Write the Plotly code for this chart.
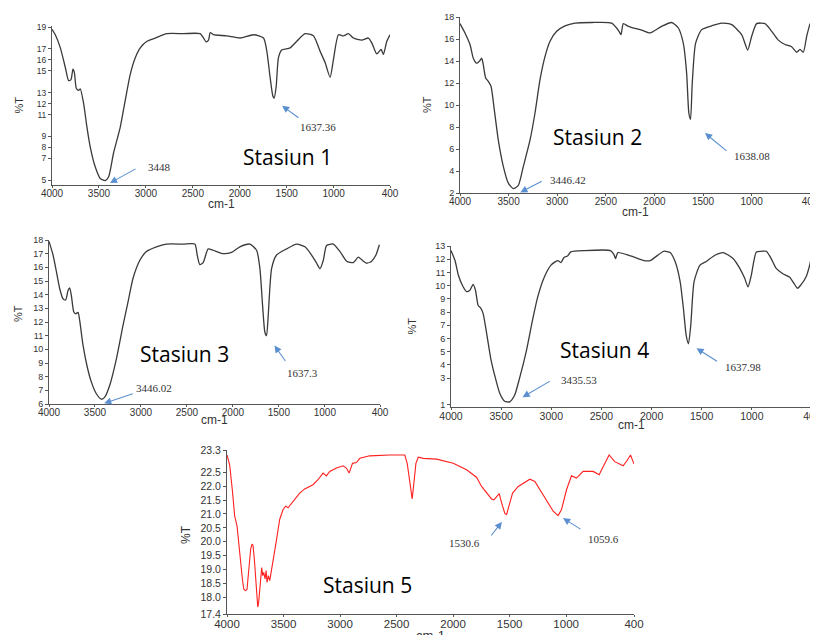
import plotly.graph_objects as go

# the page body adds an 8 px margin, so the figure is drawn 8 px smaller and shifted
OFF = 8
W, H = 818 - OFF, 635 - OFF

# ---------------- data ----------------
wn1 = [4000, 3965, 3911, 3858, 3823, 3798, 3777, 3762, 3741, 3716, 3699, 3663, 3628, 3592, 3539, 3486, 3433,
       3397, 3344, 3273, 3220, 3166, 3113, 3060, 2989, 2900, 2776, 2599, 2422, 2386, 2358, 2333, 2315, 2280,
       2138, 1996, 1853, 1747, 1712, 1677, 1648, 1634, 1613, 1588, 1553, 1464, 1393, 1304, 1216, 1145, 1091,
       1038, 1002, 949, 896, 843, 790, 701, 630, 594, 541, 495, 470, 434, 400]
t1 = [18.8, 18.3, 17.1, 15.3, 14.1, 14.2, 15.15, 14.85, 13.4, 13.2, 13.35, 12.0, 9.85, 8.0, 6.2, 5.15, 4.95,
      5.3, 7.5, 9.85, 12.3, 14.7, 16.2, 17.1, 17.7, 18.0, 18.4, 18.4, 18.4, 18.0, 17.65, 17.8, 18.5, 18.3,
      18.2, 18.0, 18.3, 18.0, 16.8, 14.4, 12.7, 12.5, 13.5, 16.2, 16.9, 17.1, 17.7, 18.4, 18.2, 16.8, 15.75,
      14.4, 16.05, 18.3, 18.2, 18.4, 18.0, 17.8, 18.0, 17.55, 16.55, 16.95, 16.5, 17.7, 18.3]

wn2 = [4000, 3949, 3897, 3863, 3829, 3794, 3777, 3760, 3736, 3709, 3681, 3647, 3606, 3554, 3503, 3451, 3400,
       3349, 3280, 3229, 3177, 3126, 3074, 3006, 2920, 2817, 2646, 2440, 2389, 2365, 2344, 2320, 2269, 2131,
       2046, 1926, 1823, 1754, 1703, 1669, 1646, 1629, 1611, 1577, 1514, 1411, 1309, 1206, 1103, 1041, 1000,
       949, 863, 794, 726, 657, 589, 537, 503, 469, 434, 400]
t2 = [17.4, 16.55, 15.5, 14.25, 13.8, 14.05, 14.25, 13.65, 12.45, 12.15, 11.7, 9.55, 6.8, 4.4, 2.9, 2.4, 2.7,
      4.4, 6.8, 9.25, 12.3, 14.4, 15.8, 16.7, 17.2, 17.45, 17.5, 17.45, 17.0, 16.7, 16.4, 17.4, 17.15, 16.8,
      16.55, 17.15, 17.5, 17.0, 15.6, 12.9, 9.25, 8.7, 12.0, 15.6, 16.85, 17.2, 17.45, 17.3, 16.4, 15.0, 16.25,
      17.4, 17.4, 16.7, 15.9, 15.5, 15.3, 14.8, 15.05, 14.8, 16.25, 17.4]

wn3 = [4000, 3956, 3920, 3884, 3848, 3819, 3793, 3775, 3757, 3731, 3710, 3684, 3666, 3630, 3587, 3539, 3485,
       3430, 3394, 3340, 3267, 3195, 3141, 3086, 3013, 2941, 2832, 2723, 2541, 2414, 2388, 2360, 2323, 2269,
       2214, 2105, 2014, 1924, 1815, 1742, 1706, 1677, 1652, 1634, 1616, 1579, 1525, 1416, 1307, 1216, 1144,
       1089, 1053, 1017, 981, 908, 835, 763, 690, 636, 581, 545, 491, 444, 407]
t3 = [17.9, 16.9, 15.7, 14.45, 13.7, 13.6, 14.3, 14.5, 13.95, 12.75, 12.6, 12.7, 12.1, 10.3, 8.8, 7.6, 6.75,
      6.35, 6.5, 7.35, 9.3, 11.75, 13.45, 15.2, 16.5, 17.15, 17.5, 17.7, 17.7, 17.7, 16.9, 16.2, 16.35, 17.35,
      17.25, 17.0, 17.1, 17.5, 17.7, 17.25, 15.9, 13.2, 11.25, 11.0, 12.45, 15.9, 16.9, 17.35, 17.7, 17.5, 16.9,
      16.3, 15.9, 16.5, 17.6, 17.7, 17.15, 16.45, 16.35, 16.75, 16.45, 16.3, 16.45, 16.9, 17.65]

wn4 = [4000, 3960, 3927, 3888, 3845, 3812, 3779, 3756, 3729, 3703, 3680, 3647, 3604, 3564, 3514, 3465, 3415,
       3366, 3316, 3250, 3184, 3135, 3069, 3003, 2937, 2904, 2871, 2838, 2805, 2672, 2408, 2375, 2359, 2336,
       2210, 2078, 2012, 1880, 1814, 1764, 1715, 1682, 1655, 1632, 1609, 1576, 1517, 1451, 1368, 1286, 1187,
       1120, 1071, 1038, 1005, 955, 906, 856, 807, 757, 691, 625, 578, 545, 511, 460, 420, 400]
t4 = [12.65, 11.9, 10.8, 10.05, 9.55, 9.65, 10.1, 9.65, 8.5, 8.3, 7.9, 6.5, 4.5, 3.2, 1.85, 1.25, 1.2,
      1.7, 3.0, 5.0, 7.5, 9.15, 10.65, 11.55, 11.9, 11.75, 12.15, 12.25, 12.55, 12.65, 12.65, 12.35, 12.05, 12.5,
      12.25, 11.9, 11.9, 12.6, 12.5, 11.8, 10.3, 8.25, 6.25, 5.6, 7.0, 10.3, 11.55, 11.85, 12.3, 12.5, 12.05,
      11.3, 10.55, 9.9, 10.8, 12.55, 12.6, 12.6, 12.05, 11.3, 10.9, 10.65, 10.15, 9.8, 10.05, 10.65, 11.65, 12.4]

wn5 = [4000, 3976, 3953, 3932, 3911, 3894, 3879, 3864, 3852, 3838, 3823, 3808, 3799, 3791, 3779, 3770, 3758,
       3746, 3737, 3728, 3720, 3711, 3702, 3693, 3684, 3675, 3663, 3654, 3646, 3634, 3622, 3610, 3593, 3578,
       3557, 3534, 3504, 3481, 3460, 3416, 3357, 3313, 3239, 3195, 3150, 3121, 3091, 3032, 2973, 2944, 2920,
       2890, 2855, 2825, 2737, 2560, 2427, 2406, 2388, 2374, 2362, 2347, 2329, 2308, 2264, 2146, 1999, 1881,
       1793, 1748, 1704, 1660, 1639, 1616, 1592, 1571, 1542, 1527, 1504, 1474, 1424, 1380, 1321, 1277, 1233,
       1174, 1115, 1071, 1041, 997, 953, 909, 850, 761, 708, 673, 620, 570, 496, 461, 431, 400]
t5 = [23.12, 22.76, 21.87, 20.92, 20.56, 19.85, 19.13, 18.66, 18.3, 18.24, 18.28, 18.9, 19.13, 19.73, 19.91,
      19.87, 19.37, 18.54, 17.94, 17.65, 17.82, 18.42, 18.66, 19.07, 18.78, 18.9, 18.66, 18.96, 18.54, 18.78,
      18.6, 18.9, 19.25, 19.67, 20.2, 20.8, 21.16, 21.28, 21.22, 21.45, 21.75, 21.9, 22.05, 22.23, 22.47, 22.37,
      22.53, 22.65, 22.73, 22.65, 22.47, 22.82, 22.85, 23.0, 23.09, 23.12, 23.12, 22.82, 22.23, 21.75, 21.54,
      22.11, 22.82, 23.04, 23.0, 22.97, 22.82, 22.59, 22.32, 21.99, 21.78, 21.54, 21.51, 21.63, 21.73, 21.4,
      21.01, 20.98, 21.28, 21.75, 21.99, 22.11, 22.25, 22.17, 21.87, 21.45, 21.1, 20.94, 21.16, 21.87, 22.37,
      22.29, 22.53, 22.53, 22.41, 22.7, 23.12, 22.88, 22.73, 22.92, 23.12, 22.8]

x_ticks = [4000, 3500, 3000, 2500, 2000, 1500, 1000, 400]
y_ticks1 = [19, 17, 16, 15, 13, 12, 11, 9, 8, 7, 5]
y_ticks2 = [2, 4, 6, 8, 10, 12, 14, 16, 18]
y_ticks3 = [6, 7, 8, 9, 10, 11, 12, 13, 14, 15, 16, 17, 18]
y_ticks4 = [1, 3, 4, 5, 6, 7, 8, 9, 10, 11, 12, 13]
y_ticks5 = [17.4, 18.0, 18.5, 19.0, 19.5, 20.0, 20.5, 21.0, 21.5, 22.0, 22.5, 23.3]

x_title = "cm-1"
y_title = "%T"
titles = ["Stasiun 1", "Stasiun 2", "Stasiun 3", "Stasiun 4", "Stasiun 5"]
# peak labels: (label, arrow tip wn, arrow tip T, tail dx, tail dy, text wn, text T)
peaks = [
    [("3448", 3382, 4.73, 27, -15, 2850, 6.18), ("1637.36", 1550, 11.8, 18, 13, 1167, 9.82)],
    [("3446.42", 3380, 2.05, 23, -12, 2889, 3.18), ("1638.08", 1480, 7.45, 23, 19, 997, 5.36)],
    [("3446.02", 3400, 6.05, 30, -10, 2855, 7.2), ("1637.3", 1548, 10.28, 12, 17, 1242, 8.3)],
    [("3435.53", 3287, 1.55, 29, -17, 2722, 2.83), ("1637.98", 1552, 5.26, 22, 14, 1087, 3.82)],
    [("1530.6", 1568, 20.71, -12, 15, 1896, 19.95), ("1059.6", 1028, 20.85, 19, 12, 674, 20.1)],
]
title_pos = [(1497, 7.09), (2581, 7.09), (2529, 9.69), (2474, 5.1), (2755, 18.44)]

# ---------------- layout (window pixels) ----------------
boxes = [(52, 390, 26, 185), (460, 810, 17, 193), (49, 380, 240, 404), (451, 812, 246, 407), (227, 634, 450, 614)]
yranges = [[4.55, 19.1], [2, 18], [6, 18], [0.81, 13], [17.4, 23.3]]
yticks = [y_ticks1, y_ticks2, y_ticks3, y_ticks4, y_ticks5]
xtitle_shift = [-10, -10, -7, -9, -12]
ytitle_shift = [(-34, 0), (-33, 0), (-31, 8), (-40, 0), (-41, -3)]
xtick_size = [10, 10, 10, 10.5, 11.5]
ytick_size = [8.5, 9, 9, 9, 10.5]
series = [(wn1, t1), (wn2, t2), (wn3, t3), (wn4, t4), (wn5, t5)]
colors = ["#3a3a3a", "#3a3a3a", "#3a3a3a", "#3a3a3a", "#ff2020"]

fig = go.Figure()
annotations = []
axis_color = "#555555"
for i in range(5):
    n = "" if i == 0 else str(i + 1)
    wn, t = series[i]
    fig.add_trace(go.Scatter(x=wn, y=t, mode="lines", xaxis="x" + n, yaxis="y" + n,
                             line=dict(color=colors[i], width=1.3 if i < 4 else 1.1,
                                       shape="spline" if i < 4 else "linear", smoothing=0.6),
                             showlegend=False, hoverinfo="skip"))
    l, r, tp, b = boxes[i]
    xa = dict(domain=[(l - OFF) / W, min(1, (r - OFF) / W)], range=[4000, 400], tickvals=x_ticks,
              automargin=False, ticklabeloverflow="allow", ticklabelstandoff=-3,
              showgrid=False, zeroline=False, showline=True, linecolor=axis_color, linewidth=1,
              ticks="outside", ticklen=2, tickcolor=axis_color,
              tickfont=dict(family="Liberation Sans", size=xtick_size[i], color="#333"),
              anchor="y" + n)
    ya = dict(domain=[1 - (b - OFF) / H, 1 - (tp - OFF) / H], range=yranges[i], tickvals=yticks[i],
              automargin=False, ticklabeloverflow="allow", tickformat=".1f" if i == 4 else "d",
              showgrid=False, zeroline=False, showline=True, linecolor=axis_color, linewidth=1,
              ticks="outside", ticklen=3, tickcolor=axis_color,
              tickfont=dict(family="Liberation Sans", size=ytick_size[i], color="#333"),
              anchor="x" + n)
    fig.update_layout(**{"xaxis" + n: xa, "yaxis" + n: ya})
    xr, yr = "x" + n, "y" + n
    annotations.append(dict(x=0.5, y=0, xref=xr + " domain", yref=yr + " domain", text=x_title,
                            showarrow=False, xanchor="center", yanchor="top", yshift=xtitle_shift[i],
                            font=dict(family="Liberation Sans", size=12 if i < 4 else 13, color="#333")))
    annotations.append(dict(x=0, y=0.5, xref=xr + " domain", yref=yr + " domain", text=y_title,
                            showarrow=False, textangle=-90, xanchor="center", yanchor="middle",
                            xshift=ytitle_shift[i][0], yshift=ytitle_shift[i][1],
                            font=dict(family="Liberation Sans", size=11 if i < 4 else 12, color="#333")))
    for lab, ax_, ay_, dx, dy, tx, ty in peaks[i]:
        annotations.append(dict(x=ax_, y=ay_, xref=xr, yref=yr, ax=dx, ay=dy, text="", showarrow=True,
                                arrowhead=2, arrowsize=1.3, arrowwidth=1.1, arrowcolor="#5b8fcf"))
        annotations.append(dict(x=tx, y=ty, xref=xr, yref=yr, text=lab, showarrow=False,
                                font=dict(family="Liberation Serif", size=11, color="#333")))
    annotations.append(dict(x=title_pos[i][0], y=title_pos[i][1], xref=xr, yref=yr, text=titles[i],
                            showarrow=False, font=dict(family="Open Sans", size=21, color="#000")))

fig.update_layout(width=W, height=H, margin=dict(l=0, r=0, t=0, b=0),
                  paper_bgcolor="white", plot_bgcolor="white", annotations=annotations)
fig.write_html("out.html")
